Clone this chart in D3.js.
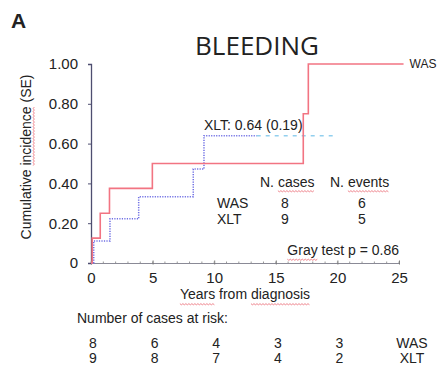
<!DOCTYPE html>
<html>
<head>
<meta charset="utf-8">
<script src="https://cdn.jsdelivr.net/npm/d3@7"></script>
<style>
  html, body { margin: 0; padding: 0; background: #fff; }
  svg { display: block; }
  text { font-family: "Liberation Sans", Arial, sans-serif; fill: #222; }
</style>
</head>
<body>
<svg id="chart" width="442" height="367"></svg>
<script>
// Cumulative incidence of bleeding, step functions per group
const wasTime = [0, 0.1, 0.75, 1.5, 4.98, 17.23, 17.64, 25.37];
const wasCif  = [0, 0.125, 0.25, 0.375, 0.5, 0.75, 1.0, 1.0];
const xltTime = [0, 0.22, 1.54, 3.87, 8.3, 9.17, 13.45];
const xltCif  = [0, 0.111, 0.222, 0.333, 0.472, 0.64, 0.64];
const xltTailTime = [13.45, 19.67];
const xltTailCif  = [0.64, 0.64];

const xTicks = [0, 5, 10, 15, 20, 25];
const yTicks = [0, 0.2, 0.4, 0.6, 0.8, 1.0];

const groups = ["WAS", "XLT"];
const nCases = [8, 9];
const nEvents = [6, 5];
const riskTimes = [0, 5, 10, 15, 20];
const wasAtRisk = [8, 6, 4, 3, 3];
const xltAtRisk = [9, 8, 7, 4, 2];
const xltEstimate = "XLT: 0.64 (0.19)";
const grayTest = "Gray test p = 0.86";

const svg = d3.select("#chart");
const x = d3.scaleLinear().domain([0, 25]).range([91, 399]);
const y = d3.scaleLinear().domain([0, 1]).range([263, 64]);

// wavy underline (spell-check style) under a word of a text element
function squiggle(parent, textSel, word, offsetY) {
  const node = textSel.node();
  const full = node.textContent;
  const i = full.indexOf(word);
  const startX = +textSel.attr("x") || 0;
  const anchor = textSel.attr("text-anchor") || "start";
  const total = node.getComputedTextLength();
  let base = startX;
  if (anchor === "middle") base = startX - total / 2;
  if (anchor === "end") base = startX - total;
  const x0 = base + node.getSubStringLength(0, i);
  const x1 = x0 + node.getSubStringLength(i, word.length);
  const yy = (+textSel.attr("y") || 0) + offsetY;
  const pts = [];
  for (let px = x0, k = 0; px <= x1; px += 1.5, k++) pts.push([px, yy + (k % 2 ? 0.8 : -0.3)]);
  parent.append("path")
    .attr("d", d3.line()(pts))
    .attr("fill", "none")
    .attr("stroke", "#e8606a")
    .attr("stroke-width", 0.9)
    .attr("opacity", 0.85);
}

// panel letter and title
svg.append("text").attr("x", 11).attr("y", 28)
  .style("font-weight", "bold").style("font-size", "21px").text("A");
svg.append("text").attr("x", 257).attr("y", 55).attr("text-anchor", "middle")
  .style("font-family", "'Open Sans', sans-serif").style("font-size", "26px")
  .text("BLEEDING");

// y axis
const yAxis = svg.append("g").attr("transform", `translate(${x(0)},0)`)
  .call(d3.axisLeft(y).tickValues(yTicks)
    .tickFormat(d => d === 0 ? "0" : d.toFixed(2))
    .tickSize(3).tickPadding(10));
yAxis.select(".domain").attr("stroke", "#4e4e70").attr("stroke-width", 1.3);
yAxis.selectAll(".tick line").attr("stroke", "#4e4e70");
yAxis.selectAll("text").style("font-size", "15px").attr("fill", "#222")
  .style("font-family", "'Liberation Sans', Arial, sans-serif");

// x axis with minor ticks every year
const xAxis = svg.append("g").attr("transform", `translate(0,${y(0)})`)
  .call(d3.axisBottom(x).tickValues(xTicks).tickSize(0).tickPadding(0));
xAxis.select(".domain").attr("stroke", "#8a8a96").attr("stroke-width", 1.2);
xAxis.selectAll(".tick text").attr("y", 20).attr("dy", 0)
  .style("font-size", "15px").attr("fill", "#222")
  .style("font-family", "'Liberation Sans', Arial, sans-serif");
xAxis.selectAll(".tick").append("line")
  .attr("y1", -2.5).attr("y2", 1.5).attr("stroke", "#777");
xAxis.selectAll(".minor").data(d3.range(0, 26)).enter().append("line")
  .attr("class", "minor")
  .attr("x1", d => x(d)).attr("x2", d => x(d))
  .attr("y1", -1.5).attr("y2", 0).attr("stroke", "#999");

// axis titles
const yLab = svg.append("g").attr("transform", "translate(31,157) rotate(-90)");
const yLabText = yLab.append("text").attr("x", 0).attr("y", 0)
  .attr("text-anchor", "middle").style("font-size", "14px").attr("fill", "#333")
  .text("Cumulative incidence (SE)");
squiggle(yLab, yLabText, "incidence", 2.5);

const xLabText = svg.append("text").attr("x", x(12.5)).attr("y", 299)
  .attr("text-anchor", "middle").style("font-size", "14px").attr("fill", "#333")
  .text("Years from diagnosis");
squiggle(svg, xLabText, "Years", 5);
squiggle(svg, xLabText, "diagnosis", 5);

// curves
const step = d3.line().curve(d3.curveStepAfter).x(d => x(d[0])).y(d => y(d[1]));
svg.append("path")
  .attr("d", step(d3.zip(xltTime, xltCif)))
  .attr("fill", "none").attr("stroke", "#7070e4")
  .attr("stroke-width", 1.5).attr("stroke-dasharray", "1.2,1.3");
svg.append("path")
  .attr("d", step(d3.zip(xltTailTime, xltTailCif)))
  .attr("fill", "none").attr("stroke", "#92cfee")
  .attr("stroke-width", 1.5).attr("stroke-dasharray", "4,5");
svg.append("path")
  .attr("d", step(d3.zip(wasTime, wasCif)))
  .attr("fill", "none").attr("stroke", "#f27482")
  .attr("stroke-width", 1.6);

// curve annotations
svg.append("text").attr("x", x(wasTime[wasTime.length - 1]) + 6)
  .attr("y", y(wasCif[wasCif.length - 1])).attr("dy", "0.35em")
  .style("font-size", "12px").attr("fill", "#333").text("WAS");
svg.append("text").attr("x", x(xltTime[5])).attr("y", 130)
  .style("font-size", "14px").attr("fill", "#333").text(xltEstimate);

// summary table
const hdr1 = svg.append("text").attr("x", 260).attr("y", 187)
  .style("font-size", "14px").attr("fill", "#333").text("N. cases");
squiggle(svg, hdr1, "cases", 4);
const hdr2 = svg.append("text").attr("x", 330).attr("y", 187)
  .style("font-size", "14px").attr("fill", "#333").text("N. events");
squiggle(svg, hdr2, "events", 4);
groups.forEach((g, i) => {
  const yy = 208 + i * 16;
  svg.append("text").attr("x", 217).attr("y", yy)
    .style("font-size", "14px").attr("fill", "#333").text(g);
  svg.append("text").attr("x", 285).attr("y", yy).attr("text-anchor", "middle")
    .style("font-size", "14px").attr("fill", "#333").text(nCases[i]);
  svg.append("text").attr("x", 362).attr("y", yy).attr("text-anchor", "middle")
    .style("font-size", "14px").attr("fill", "#333").text(nEvents[i]);
});
const grayText = svg.append("text").attr("x", 399).attr("y", 255)
  .attr("text-anchor", "end").style("font-size", "14px").attr("fill", "#333")
  .text(grayTest);
squiggle(svg, grayText, "Gray", 4.5);

// number at risk
svg.append("text").attr("x", 77).attr("y", 323)
  .style("font-size", "14px").attr("fill", "#333").text("Number of cases at risk:");
[wasAtRisk, xltAtRisk].forEach((row, i) => {
  const yy = 348 + i * 15;
  svg.selectAll(null).data(riskTimes).enter().append("text")
    .attr("x", d => x(d) + 2).attr("y", yy).attr("text-anchor", "middle")
    .style("font-size", "14px").attr("fill", "#333")
    .text((d, j) => row[j]);
  svg.append("text").attr("x", 412).attr("y", yy).attr("text-anchor", "middle")
    .style("font-size", "14px").attr("fill", "#333").text(groups[i]);
});
</script>
</body>
</html>
